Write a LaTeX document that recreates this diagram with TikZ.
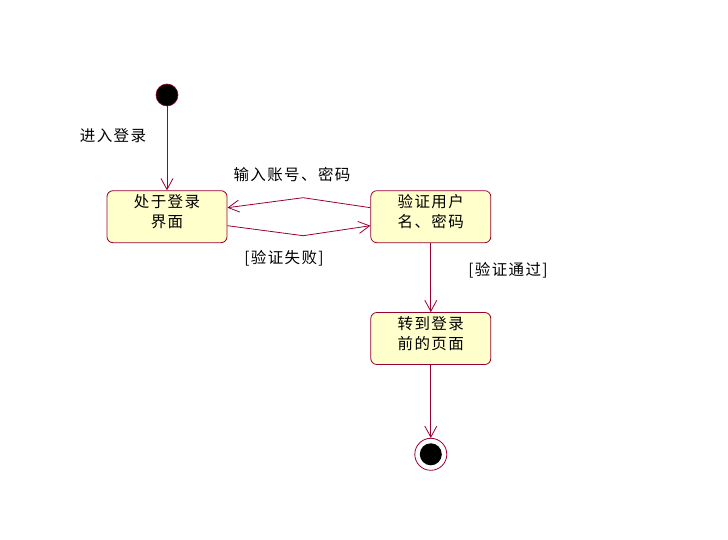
\documentclass[tikz,border=0pt]{standalone}
\usepackage{fontspec}
\setmainfont[LetterSpace=9]{Noto Sans CJK SC}
\usetikzlibrary{positioning, arrows.meta, calc}
\definecolor{coloredge}{HTML}{990033}
\definecolor{colorstate}{HTML}{FFFFCC}

\begin{document}
\begin{tikzpicture}[
    x=1pt, y=-1pt,
    % State boxes of the activity diagram
    state/.style={
        rectangle,
        draw=coloredge,
        fill=colorstate,
        rounded corners=6pt,
        align=center,
        minimum width=120pt,
        minimum height=52pt,
        inner sep=2pt,
        text depth=11pt, % lifts the two lines a little
        line width=0.8pt,
        text=black,
        font=\fontsize{15.5}{20}\selectfont
    },
    % Start and end points
    startdot/.style={
        circle,
        draw=coloredge,
        fill=black,
        minimum size=22pt,
        inner sep=0pt,
        line width=0.6pt
    },
    enddot/.style={
        circle,
        draw=coloredge,
        fill=white,
        minimum size=32pt,
        inner sep=0pt,
        line width=0.8pt,
        path picture={\fill[black] (path picture bounding box.center) circle (11pt);}
    },
    % Guard and event texts
    tag/.style={
        inner sep=1pt,
        text=black,
        font=\fontsize{15.5}{18}\selectfont
    },
    % Open V arrow as in the UML tool
    arrow/.style={
        -{Straight Barb[length=11pt, width=12pt]},
        coloredge,
        line width=0.8pt
    }
]
\useasboundingbox (0,0) rectangle (728,540);

% ==============================
% States
% ==============================
\node[startdot] (start) at (167,95) {};

\node[state, below=84pt of start] (login) {处于登录\\界面};

\node[state, right=143pt of login] (verify) {验证用户\\名、密码};

\node[state, below=69pt of verify] (jump) {转到登录\\前的页面};

\node[enddot, below=73pt of jump] (end) {};

% ==============================
% Texts
% ==============================
\node[tag] (enterlabel) at (113,136) {进入登录};
\node[tag] (inputlabel) at (292,175) {输入账号、密码};
\node[tag] (faillabel) at (284,258) {[验证失败]};
\node[tag] (passlabel) at (508,270) {[验证通过]};

% ==============================
% Transitions
% ==============================
\draw[arrow] (start) -- (login);

% Bent lines between the two upper states
\draw[arrow] ($(verify.west)+(0,-9)$) -- ($(login.east)!0.53!(verify.west)+(0,-19)$) -- ($(login.east)+(0,-9)$);
\draw[arrow] ($(login.east)+(0,9)$) -- ($(login.east)!0.53!(verify.west)+(0,19)$) -- ($(verify.west)+(0,9)$);

\draw[arrow] (verify) -- (jump);
\draw[arrow] (jump) -- (end);

\end{tikzpicture}
\end{document}
